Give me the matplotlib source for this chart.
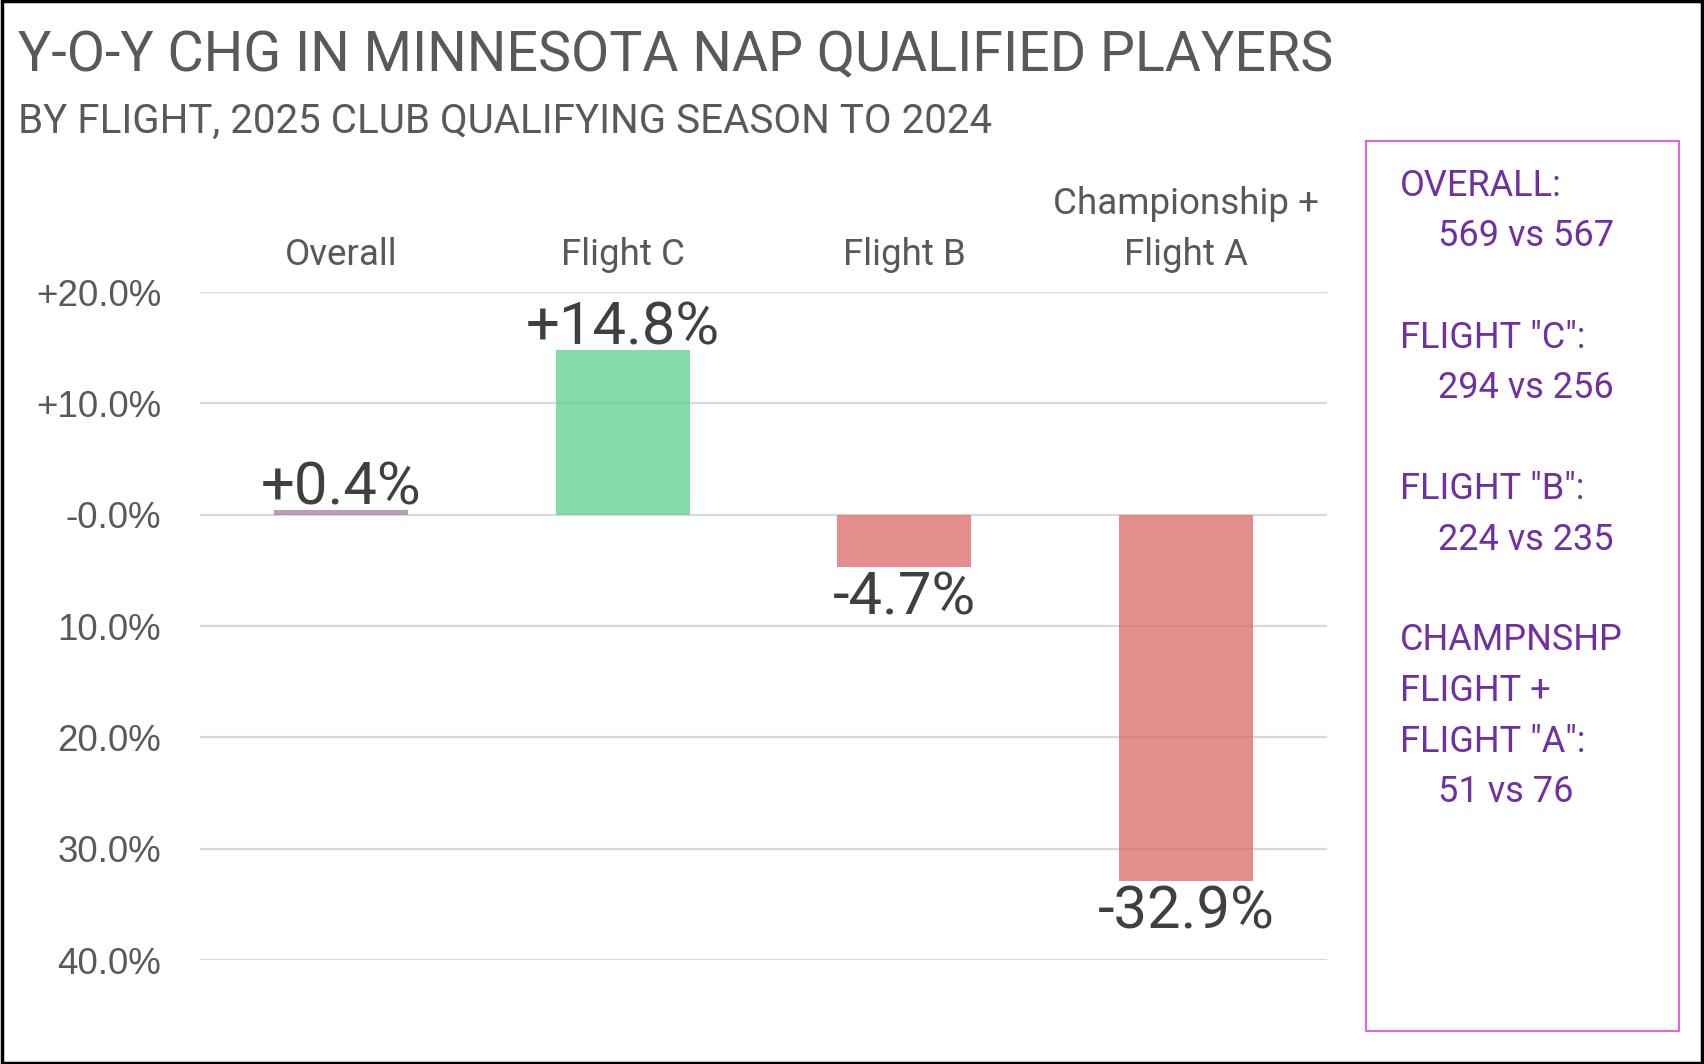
import matplotlib.pyplot as plt
from matplotlib.patches import Rectangle

'''Data'''

categories = ['Overall', 'Flight C', 'Flight B', 'Championship +\nFlight A']
pct_change = [0.4, 14.8, -4.7, -32.9]
bar_colors = ['#a67ba6', '#5ccf8e', '#db6a67', '#db6a67']

y_ticks = [20, 10, 0, -10, -20, -30, -40]
y_tick_labels = ['+20.0%', '+10.0%', '-0.0%', '10.0%', '20.0%', '30.0%', '40.0%']

    # lines starting with spaces are the indented count lines
box_lines = ['OVERALL:', '   569 vs 567', '', 'FLIGHT "C":', '   294 vs 256', '',
             'FLIGHT "B":', '   224 vs 235', '', 'CHAMPNSHP', 'FLIGHT +', 'FLIGHT "A":',
             '   51 vs 76']

title = 'Y-O-Y CHG IN MINNESOTA NAP QUALIFIED PLAYERS'
subtitle = 'BY FLIGHT, 2025 CLUB QUALIFYING SEASON TO 2024'

'''PLOT GRAPH'''

W, H = 1704, 1064
fig = plt.figure(figsize=(W / 100, H / 100), dpi=100)
fig.patch.set_facecolor('white')

    # outer black frame
fig.patches.append(Rectangle((0.001, 0.001), 0.998, 0.998, transform=fig.transFigure,
                             fill=False, edgecolor='black', linewidth=2.5))

    # title and subtitle
fig.text(18 / W, 1 - 56 / H, title, fontsize=40, color='#595959',
         family=['Roboto', 'DejaVu Sans'], va='center', ha='left')
fig.text(18 / W, 1 - 121 / H, subtitle, fontsize=29, color='#595959',
         family=['Roboto', 'DejaVu Sans'], va='center', ha='left')

    # bar chart area
ax = fig.add_axes([200 / W, 1 - 960 / H, 1127 / W, 668 / H])
x = list(range(len(categories)))
ax.bar(x, pct_change, width=0.475, color=bar_colors, alpha=0.75, zorder=3)

ax.set_xlim(-0.5, len(categories) - 0.5)
ax.set_ylim(-40, 20)
ax.set_yticks(y_ticks)
ax.set_yticklabels(y_tick_labels, fontsize=26.5, color='#595959',
                   family=['Liberation Sans', 'DejaVu Sans'])
ax.tick_params(axis='y', length=0, pad=28)
ax.set_xticks([])
for s in ax.spines.values():
    s.set_visible(False)
ax.yaxis.grid(True, color='#d9d9d9', linewidth=1.6, zorder=0)

    # category names above the plot
for i, name in enumerate(categories):
    ax.annotate(name, (i, 20), xytext=(0, 14), textcoords='offset points',
                ha='center', va='bottom', fontsize=26.5, color='#595959',
                family=['Roboto', 'DejaVu Sans'], linespacing=1.52)

    # data labels
for i, v in enumerate(pct_change):
    txt = ('+' if v >= 0 else '-') + '%.1f%%' % abs(v)
    if v >= 0:
        ax.annotate(txt, (i, v), xytext=(0, 4), textcoords='offset points',
                    ha='center', va='baseline', fontsize=43, color='#404040',
                    family=['Roboto', 'DejaVu Sans'], zorder=5)
    else:
        ax.annotate(txt, (i, v), xytext=(0, -2), textcoords='offset points',
                    ha='center', va='top', fontsize=43, color='#404040',
                    family=['Roboto', 'DejaVu Sans'], zorder=5)

    # side box with counts
fig.patches.append(Rectangle((1366 / W, 1 - 1031 / H), 313 / W, 890 / H,
                             transform=fig.transFigure, fill=False,
                             edgecolor='#e066d9', linewidth=1.5))
y0 = 186
for line in box_lines:
    if line:
        xpos = 1438 if line.startswith(' ') else 1400
        fig.text(xpos / W, 1 - y0 / H, line.strip(), fontsize=26, color='#7030a0',
                 family=['Roboto', 'DejaVu Sans'], va='center', ha='left')
    y0 += 50.5

fig.savefig('out.png', dpi=100)
